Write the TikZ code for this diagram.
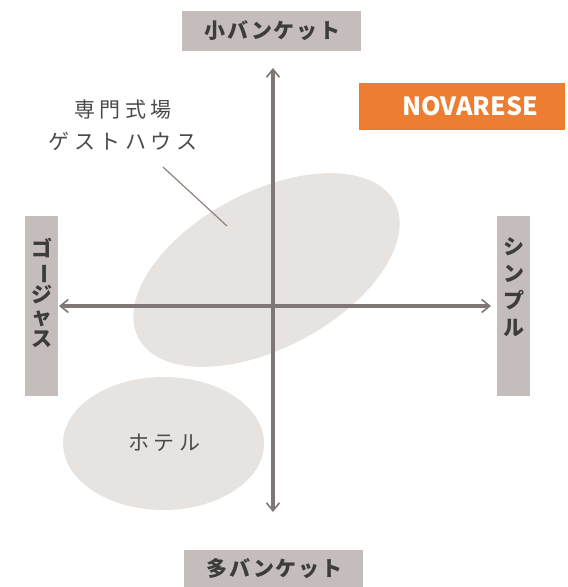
\documentclass[tikz,border=0pt]{standalone}
\usepackage{fontspec}
\usepackage{graphicx}
\setmainfont{Noto Sans CJK JP}
\newfontfamily\lblfont[LetterSpace=8]{Noto Sans CJK JP}
\newfontfamily\thinfont[LetterSpace=22]{Noto Sans CJK JP}
\newfontfamily\brandfont{Noto Sans CJK JP}
\usetikzlibrary{arrows.meta}
\definecolor{boxgray}{HTML}{C4BDBB}
\definecolor{ellgray}{HTML}{E6E3E1}
\definecolor{axisgray}{HTML}{7F7775}
\definecolor{txtdark}{HTML}{3C3C3C}
\definecolor{txtlight}{HTML}{4A4A4A}
\definecolor{brandorange}{HTML}{ED7D31}
\definecolor{leadergray}{HTML}{8F817C}
\begin{document}
\begin{tikzpicture}[x=1pt,y=-1pt,
  boxfill/.style={fill=boxgray, inner sep=0pt},
  labeltext/.style={inner sep=0pt, text=txtdark, align=center,
    font=\lblfont\bfseries\fontsize{21}{22}\selectfont},
  brandbox/.style={fill=brandorange, inner sep=0pt,
    minimum width=206pt, minimum height=47pt},
  brandtext/.style={inner sep=0pt, text=white,
    font=\brandfont\bfseries\fontsize{25}{26}\selectfont},
  region/.style={fill=ellgray},
  regionlabel/.style={text=txtlight, align=center, inner sep=0pt,
    font=\thinfont\fontsize{21}{32}\selectfont},
  axis/.style={draw=axisgray, line width=3.2pt,
    {Straight Barb[length=8pt,width=13pt,line width=1.6pt]}-{Straight Barb[length=8pt,width=13pt,line width=1.6pt]}},
  leader/.style={draw=leadergray, line width=1.2pt}
]
\useasboundingbox (0,0) rectangle (568,587);

% regions
\fill[region, rotate around={28:(266.5,270)}] (266.5,270) ellipse [x radius=145, y radius=78];
\fill[region] (163.5,443.5) ellipse [x radius=100.5, y radius=66.5];

% axes
\coordinate (ytop) at (273,68);
\coordinate (ybot) at (273,512);
\coordinate (xleft) at (59,306);
\coordinate (xright) at (491,306);
\draw[axis] (ybot) -- (ytop);
\draw[axis] (xleft) -- (xright);

% axis labels
\node[boxfill, minimum width=179pt, minimum height=40pt] (smallbox) at (271.5,31) {};
\node[labeltext] (small) at (272.5,31) {小バンケット};
\node[boxfill, minimum width=179pt, minimum height=37pt] (manybox) at (273.5,568.5) {};
\node[labeltext] (many) at (274.5,569) {多バンケット};
\node[boxfill, minimum width=33pt, minimum height=180pt] (gorgeousbox) at (41.5,306) {};
\node[labeltext, font=\lblfont\bfseries\fontsize{21}{22}\selectfont] (gorgeous) at (42,293) {ゴ\\\rotatebox[origin=c]{-90}{ー}\\ジ\\ャ\\ス};
\node[boxfill, minimum width=33pt, minimum height=180pt] (simplebox) at (513.5,306) {};
\node[labeltext, font=\lblfont\bfseries\fontsize{21}{27}\selectfont] (simple) at (514,287) {シ\\ン\\プ\\ル};

% brand
\node[brandbox] (brandbox) at (462,106.5) {};
\node[brandtext] (brand) at (470,106) {NOVARESE};

% region labels
\node[regionlabel] (wed) at (123,125) {専門式場\\ゲストハウス};
\node[regionlabel] (hotel) at (164.5,443) {ホテル};

% leader
\coordinate (leadA) at (163,167);
\coordinate (leadB) at (227,226);
\draw[leader] (leadA) -- (leadB);
\end{tikzpicture}
\end{document}
